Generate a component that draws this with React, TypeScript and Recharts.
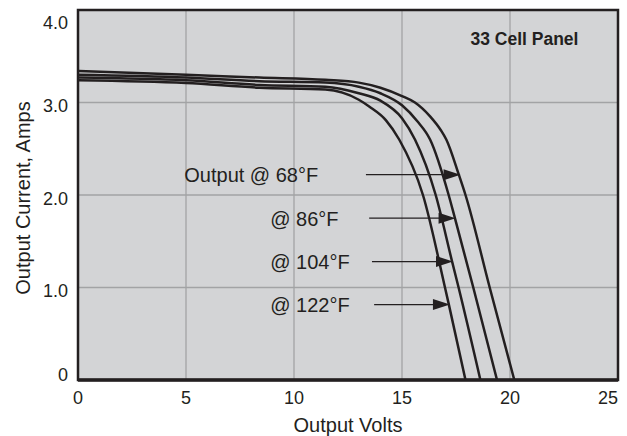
import {
  LineChart,
  Line,
  XAxis,
  YAxis,
  CartesianGrid,
  ReferenceArea,
  ReferenceLine,
  ReferenceDot,
} from 'recharts';

// I-V curves of a 33 cell panel at four temperatures (volts, amps)
const volts68 = [0, 5, 8.4, 11.45, 13, 14, 15, 15.6, 16.3, 16.8, 17.05, 17.63, 17.94, 19.06, 20.2];
const amps68 = [3.34, 3.3, 3.27, 3.245, 3.215, 3.16, 3.07, 3.0, 2.85, 2.7, 2.6, 2.22, 2.0, 1.0, 0];

const volts86 = [0, 5, 8.4, 11.45, 13, 14, 15, 15.7, 16.3, 17.16, 17.45, 18.3, 19.4];
const amps86 = [3.3, 3.27, 3.23, 3.215, 3.17, 3.1, 2.97, 2.8, 2.6, 2.0, 1.75, 1.0, 0];

const volts104 = [0, 5, 8.4, 11.45, 13, 14, 15, 15.6, 16.56, 17.32, 17.62, 18.63];
const amps104 = [3.27, 3.24, 3.19, 3.17, 3.1, 3.02, 2.83, 2.6, 2.0, 1.28, 1.0, 0];

const volts122 = [0, 5, 8.4, 11.45, 13, 13.48, 14.25, 14.87, 15.97, 16.99, 17.17, 17.94];
const amps122 = [3.24, 3.21, 3.16, 3.14, 3.03, 2.957, 2.81, 2.6, 2.0, 1.0, 0.815, 0];

const xTicks = [0, 5, 10, 15, 20, 25];
const yTicks = [0, 1, 2, 3, 4];

// callouts: label, label start (V), arrow tail (V), arrow tip (V), current (A)
const calloutLabels = ['Output @ 68°F', '@ 86°F', '@ 104°F', '@ 122°F'];
const calloutLabelV = [4.92, 8.9, 8.9, 8.9];
const calloutTailV = [13.33, 13.48, 13.61, 13.71];
const calloutTipV = [17.71, 17.48, 17.36, 17.22];
const calloutAmps = [2.22, 1.75, 1.28, 0.815];

const toPoints = (v: number[], a: number[]) => v.map((x, i) => ({ v: x, a: a[i] }));

const series = [
  toPoints(volts68, amps68),
  toPoints(volts86, amps86),
  toPoints(volts104, amps104),
  toPoints(volts122, amps122),
];

const INK = '#231f20';
const FONT = '"Liberation Sans", Arial, Helvetica, sans-serif';

const XTick = (props: any) => {
  const { x, payload } = props;
  const last = payload.value === 25;
  return (
    <text
      x={last ? 618 : x}
      y={404}
      textAnchor={last ? 'end' : 'middle'}
      fontSize={18}
      fontFamily={FONT}
      fill={INK}
    >
      {payload.value}
    </text>
  );
};

const YTick = (props: any) => {
  const { y, payload } = props;
  const v = payload.value;
  const shift = v === 4 ? 12.5 : v === 0 ? -5 : 3.5;
  return (
    <text x={68} y={y + shift + 6.4} textAnchor="end" fontSize={18} fontFamily={FONT} fill={INK}>
      {v === 0 ? '0' : v.toFixed(1)}
    </text>
  );
};

const Arrow = (props: any) => {
  const { x1, y1, x2, y2 } = props;
  return (
    <g>
      <line x1={x1} y1={y1} x2={x2 - 14} y2={y2} stroke={INK} strokeWidth={1.3} />
      <polygon points={`${x2},${y2} ${x2 - 17},${y2 - 5.5} ${x2 - 17},${y2 + 5.5}`} fill={INK} />
    </g>
  );
};

export default function App() {
  return (
    <div style={{ position: 'absolute', left: 0, top: 0, width: 627, height: 436, background: '#fff' }}>
      <LineChart width={627} height={436} margin={{ top: 10, right: 9, bottom: 0, left: 0 }}>
        <CartesianGrid stroke="#a2a3a5" strokeWidth={1.3} fill="#d3d4d6" fillOpacity={1} />
        <XAxis
          type="number"
          dataKey="v"
          domain={[0, 25]}
          ticks={xTicks}
          allowDataOverflow
          height={56}
          tickLine={false}
          axisLine={{ stroke: INK, strokeWidth: 3.5 }}
          tick={<XTick />}
          label={(p: any) => (
            <text
              x={p.viewBox.x + p.viewBox.width / 2}
              y={432}
              textAnchor="middle"
              fontSize={20}
              fontFamily={FONT}
              fill={INK}
            >
              Output Volts
            </text>
          )}
        />
        <YAxis
          type="number"
          dataKey="a"
          domain={[0, 4]}
          ticks={yTicks}
          allowDataOverflow
          width={78}
          tickLine={false}
          axisLine={false}
          tick={<YTick />}
          label={(p: any) => {
            const cy = p.viewBox.y + p.viewBox.height / 2 + 3;
            return (
              <text
                x={23}
                y={cy}
                transform={`rotate(-90, 23, ${cy})`}
                textAnchor="middle"
                dominantBaseline="central"
                fontSize={20}
                fontFamily={FONT}
                fill={INK}
              >
                Output Current, Amps
              </text>
            );
          }}
        />
        <ReferenceArea x1={0} x2={25} y1={0} y2={4} fill="none" stroke={INK} strokeWidth={2.5} ifOverflow="visible" />
        {series.map((d, i) => (
          <Line
            key={i}
            data={d}
            dataKey="a"
            type="monotone"
            stroke={INK}
            strokeWidth={2.5}
            dot={false}
            activeDot={false}
            isAnimationActive={false}
          />
        ))}
        {calloutLabels.map((t, i) => (
          <ReferenceLine
            key={`arrow-${i}`}
            segment={[
              { x: calloutTailV[i], y: calloutAmps[i] },
              { x: calloutTipV[i], y: calloutAmps[i] },
            ]}
            shape={<Arrow />}
          />
        ))}
        {calloutLabels.map((t, i) => (
          <ReferenceDot
            key={`label-${i}`}
            x={calloutLabelV[i]}
            y={calloutAmps[i]}
            r={0}
            shape={(p: any) => (
              <text x={p.cx} y={p.cy + 7.5} fontSize={20} fontFamily={FONT} fill={INK}>
                {t}
              </text>
            )}
          />
        ))}
        <ReferenceDot
          x={18.17}
          y={3.69}
          r={0}
          shape={(p: any) => (
            <text x={p.cx} y={p.cy + 6.5} fontSize={17.5} fontWeight="bold" fontFamily={FONT} fill={INK}>
              33 Cell Panel
            </text>
          )}
        />
      </LineChart>
    </div>
  );
}
